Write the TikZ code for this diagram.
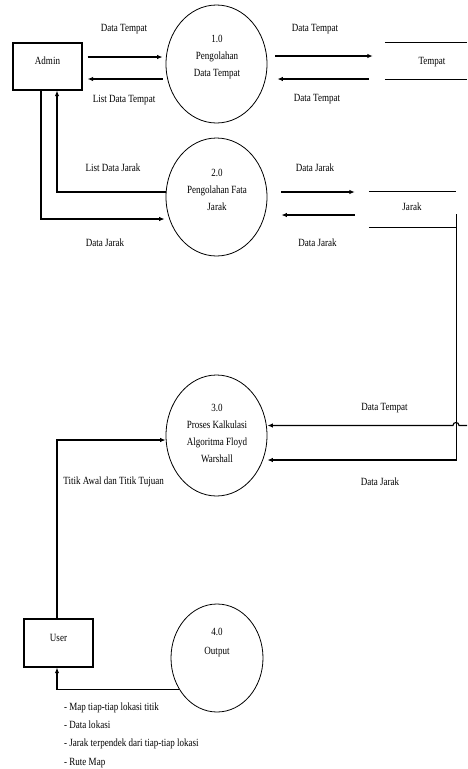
\documentclass[tikz,border=0pt]{standalone}
\usepackage{fontspec}
\setmainfont[FakeStretch=0.82]{Liberation Serif}
\usetikzlibrary{arrows.meta,shapes.geometric}
\begin{document}
\begin{tikzpicture}[x=1pt,y=-1pt,
  font=\fontsize{11}{17}\selectfont,
  proc/.style={ellipse, draw, line width=0.8pt, inner sep=0pt},
  ent/.style={rectangle, draw, line width=1.1pt, inner sep=0pt, text height=7pt},
  store/.style={rectangle, inner sep=0pt},
  flow/.style={line width=1.1pt, -{Latex[length=5.5pt,width=4.5pt]}},
  sline/.style={line width=1.1pt},
  lbl/.style={inner sep=0pt, align=center}]
\useasboundingbox (0,0) rectangle (467,769);

% external entities
\node[ent, minimum width=69pt, minimum height=47pt, text depth=11pt] (admin) at (47.5,66.5) {Admin};
\node[ent, minimum width=69pt, minimum height=48pt, text depth=10.4pt] (user) at (58.5,643) {User};

% processes
\node[proc, minimum width=101pt, minimum height=118pt] (c1) at (216.5,64) {};
\node[proc, minimum width=101pt, minimum height=118pt] (c2) at (216.5,197) {};
\node[proc, minimum width=101pt, minimum height=121pt] (c3) at (216.5,435.5) {};
\node[proc, minimum width=92pt, minimum height=108pt] (c4) at (217,658) {};
\node[lbl] (t1) at (217,57) {1.0\\Pengolahan\\Data Tempat};
\node[lbl] (t2) at (217,190) {2.0\\Pengolahan Fata\\Jarak};
\node[lbl] (t3) at (217,433) {3.0\\Proses Kalkulasi\\Algoritma Floyd\\Warshall};
\node[lbl, font=\fontsize{11}{19}\selectfont] (t4) at (217,642.5) {4.0\\Output};

% data stores
\node[store, minimum width=82pt, minimum height=36pt] (tempat) at (426,61) {};
\node[lbl] (tempatlbl) at (432,62) {Tempat};
\draw[sline] (tempat.north west) -- (tempat.north east);
\draw[sline] (tempat.south west) -- (tempat.south east);
\node[store, minimum width=87pt, minimum height=35pt] (jarak) at (412.5,209.5) {};
\node[lbl] (jaraklbl) at (412,207) {Jarak};
\draw[sline] (jarak.north west) -- (jarak.north east);
\draw[sline] (jarak.south west) -- (jarak.south east);

% flows Admin <-> 1.0
\draw[flow, shorten <=5pt, shorten >=3pt] (admin.east |- 0,57) -- (c1.west |- 0,57);
\draw[flow, shorten <=3pt, shorten >=5pt] (c1.west |- 0,79) -- (admin.east |- 0,79);
\node[lbl] (l1) at (124,29) {Data Tempat};
\node[lbl] (l2) at (124,100) {List Data Tempat};

% flows 1.0 <-> Tempat
\draw[flow, shorten <=8pt, shorten >=12pt] (c1.east |- 0,56) -- (tempat.west |- 0,56);
\draw[flow, shorten <=16pt, shorten >=10pt] (tempat.west |- 0,79) -- (c1.east |- 0,79);
\node[lbl] (l3) at (315,29) {Data Tempat};
\node[lbl] (l4) at (317,99) {Data Tempat};

% flows Admin <-> 2.0
\draw[flow, shorten >=1pt] ([xshift=-6.5pt]admin.south) |- (c2.west |- 0,219);
\draw[flow] (c2.west |- 0,192) -| ([xshift=9.5pt]admin.south);
\node[lbl] (l5) at (113,168) {List Data Jarak};
\node[lbl] (l6) at (105,243) {Data Jarak};

% flows 2.0 <-> Jarak
\draw[flow, shorten <=14pt, shorten >=14pt] (c2.east |- 0,192) -- (jarak.west |- 0,192);
\draw[flow, shorten <=14pt, shorten >=14pt] (jarak.west |- 0,215) -- (c2.east |- 0,215);
\node[lbl] (l7) at (315,168) {Data Jarak};
\node[lbl] (l8) at (317.5,243) {Data Jarak};

% flows to 3.0
\coordinate (tedge) at (467,425.5);
\draw[flow] ([yshift=-4.5pt]jarak.east) |- (c3.east |- 0,460);
\draw[flow] (tedge) -- ++(-8,0) .. controls +(0,-4) and +(0,-4) .. ++(-6,0) -- (c3.east |- tedge);
\node[lbl] (l9) at (384.5,408) {Data Tempat};
\node[lbl] (l10) at (380,482) {Data Jarak};

% User <-> 3.0 / 4.0
\draw[flow] ([xshift=-1.5pt]user.north) |- (c3.west |- 0,440);
\node[lbl] (l11) at (113.7,482) {Titik Awal dan Titik Tujuan};
\draw[flow] (c4.220) -| ([xshift=-1.5pt]user.south);
\node[lbl, anchor=north west, align=left, font=\fontsize{11}{18.3}\selectfont] (outlist) at (64,702.5)
  {- Map tiap-tiap lokasi titik\\- Data lokasi\\- Jarak terpendek dari tiap-tiap lokasi\\- Rute Map};
\end{tikzpicture}
\end{document}
